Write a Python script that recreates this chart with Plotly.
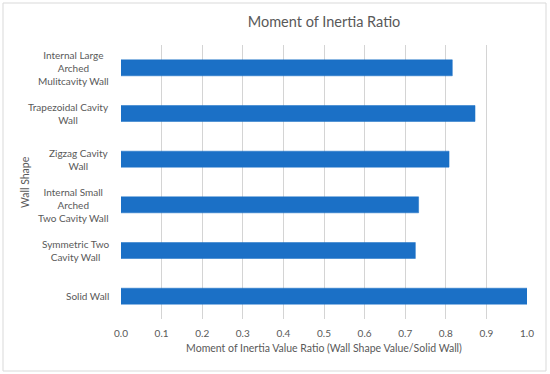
import plotly.graph_objects as go

categories = ['Solid Wall', 'Symmetric Two<br>Cavity Wall', 'Internal Small<br>Arched<br>Two Cavity Wall',
              'Zigzag Cavity<br>Wall', 'Trapezoidal Cavity<br>Wall', 'Internal Large<br>Arched<br>Mulitcavity Wall']
ratios = [1.0, 0.725, 0.733, 0.808, 0.872, 0.816]
x_ticks = [0.0, 0.1, 0.2, 0.3, 0.4, 0.5, 0.6, 0.7, 0.8, 0.9, 1.0]

font = 'Lato'
grey = '#595959'

W, H = 550, 374
L, R, T, B = 121, 23, 45, 55
pw, ph = W - L - R, H - T - B

fig = go.Figure(go.Bar(
    x=ratios, y=list(range(len(categories))), orientation='h',
    marker_color='#1b70c6', marker_line_color='#1b70c6', marker_line_width=0.5,
))

# centered multi-line category labels, right-aligned block (like Excel)
for i, c in enumerate(categories):
    fig.add_annotation(x=-10 / pw, xref='paper', y=i, yref='y', text=c, showarrow=False,
                       xanchor='right', yanchor='middle', align='center',
                       font=dict(family=font, size=10, color=grey))

# chart border
fig.add_shape(type='rect', xref='paper', yref='paper',
              x0=(3 - L) / pw, x1=(546 - L) / pw, y0=(H - B - 371) / ph, y1=(H - B - 3) / ph,
              line=dict(color='#d9d9d9', width=1), fillcolor='rgba(0,0,0,0)', layer='above')

fig.update_layout(
    width=W, height=H,
    margin=dict(l=L, r=R, t=T, b=B, autoexpand=False),
    paper_bgcolor='white', plot_bgcolor='white',
    bargap=0.65, showlegend=False,
    font=dict(family=font, color=grey, size=10),
    title=dict(text='Moment of Inertia Ratio', x=0.5, xref='paper', xanchor='center',
               y=1 - 22 / H, yanchor='middle', font=dict(family=font, size=14.5, color=grey)),
)
fig.update_xaxes(range=[0, 1.0], tickvals=x_ticks, ticktext=['%.1f' % v for v in x_ticks],
                 showgrid=True, gridcolor='#d4d4d4', gridwidth=1, zeroline=False,
                 showline=False, ticks='outside', ticklen=5, tickcolor='rgba(0,0,0,0)',
                 tickfont=dict(size=10, color=grey),
                 title=dict(text='Moment of Inertia Value Ratio (Wall Shape Value/Solid Wall)',
                            font=dict(size=10.5, color=grey), standoff=6))
fig.update_yaxes(range=[-0.5, len(categories) - 0.5], showticklabels=False, showgrid=False,
                 zeroline=False, showline=False, ticks='')
fig.add_annotation(x=(25 - L) / pw, xref='paper', y=0.5, yref='paper', text='Wall Shape',
                   textangle=-90, showarrow=False, xanchor='center', yanchor='middle',
                   font=dict(family=font, size=10.5, color=grey))

fig.write_html("out.html", config={'displayModeBar': False},
               post_script="document.body.style.margin='0px';")
